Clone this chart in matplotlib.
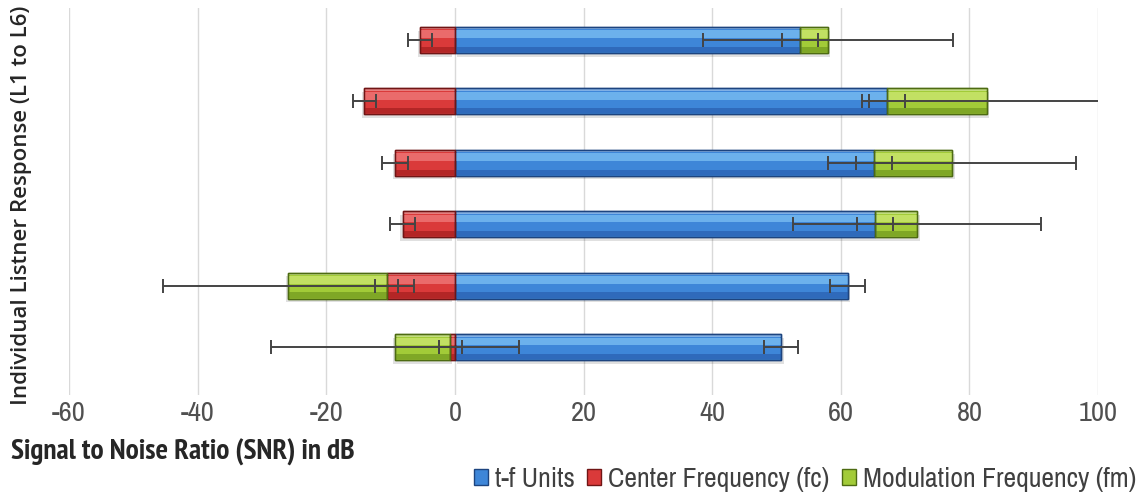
import numpy as np
import matplotlib.pyplot as plt
from matplotlib.patches import Patch
from matplotlib import font_manager as fm

# listeners L1 (bottom) to L6 (top)
listeners = ['L1', 'L2', 'L3', 'L4', 'L5', 'L6']
tf_units = [50.7, 61.1, 65.3, 65.2, 67.2, 53.6]
center_freq = [-0.7, -10.6, -8.1, -9.3, -14.1, -5.4]
mod_freq = [-8.6, -15.3, 6.6, 12.1, 15.5, 4.4]

tf_err = [2.7, 2.7, 2.8, 2.8, 2.8, 2.8]
cf_err = [1.8, 1.8, 1.95, 2.0, 1.8, 1.9]
mf_err = [19.3, 19.5, 19.3, 19.3, 19.4, 19.4]

# (light, mid, dark, edge) shades for the bevelled bars
shades = {
    't-f Units': ('#7cc0f4', '#3e86d8', '#2c63b4', '#1d447f'),
    'Center Frequency (fc)': ('#f07c7c', '#da3a3a', '#aa2222', '#701515'),
    'Modulation Frequency (fm)': ('#cde872', '#a2cb38', '#779f22', '#4d6b12'),
}


def narrow_font(bold=False):
    """Pick a condensed sans font file if one is installed."""
    want = 700 if bold else 400
    prefs = ['Liberation Sans Narrow', 'Noto Sans', 'Roboto', 'DejaVu Sans',
             'Open Sans', 'Lato', 'Inter']
    best = None
    for f in fm.fontManager.ttflist:
        cond = ('Narrow' in f.name or 'Condensed' in f.name
                or f.stretch in ('condensed', 'semi-condensed'))
        if not cond or 'Mono' in f.name or 'Serif' in f.name:
            continue
        if f.style != 'normal':
            continue
        base = f.name.replace(' Condensed', '').replace(' Narrow', '')
        rank = prefs.index(base) if base in prefs else len(prefs)
        if 'Narrow' in f.name:
            rank = -1
        w = f.weight if isinstance(f.weight, int) else (700 if 'bold' in str(f.weight) else 400)
        key = (rank, abs(w - want), f.stretch != 'condensed')
        if best is None or key < best[0]:
            best = (key, f.fname)
    if best is None:
        return fm.FontProperties(family='DejaVu Sans',
                                 weight='bold' if bold else 'normal')
    return fm.FontProperties(fname=best[1])


reg = narrow_font(False)
bold = narrow_font(True)
plt.rcParams['axes.unicode_minus'] = False

fig = plt.figure(figsize=(11.47, 4.99), dpi=100)
ax = fig.add_axes([0.0602, 0.2084, 0.8971, 0.7756])

h = 0.42
y = np.arange(len(listeners))


def bevel_bar(ax, ypos, left, width, name):
    light, mid, dark, edge = shades[name]
    # soft shadow
    ax.barh(ypos - 0.06, width, left=left + np.sign(width) * 0.4, height=h,
            color='#000000', alpha=0.12, linewidth=0, zorder=1)
    ax.barh(ypos, width, left=left, height=h, color=mid, edgecolor=edge,
            linewidth=1.0, zorder=2)
    # highlight band in the upper part, darker band at the bottom
    ax.barh(ypos + h * 0.22, width, left=left, height=h * 0.3, color=light,
            linewidth=0, alpha=0.75, zorder=3)
    ax.barh(ypos + h * 0.44, width, left=left, height=h * 0.06, color='#ffffff',
            linewidth=0, alpha=0.35, zorder=3)
    ax.barh(ypos - h * 0.36, width, left=left, height=h * 0.2, color=dark,
            linewidth=0, alpha=0.8, zorder=3)
    ax.barh(ypos, width, left=left, height=h, color='none', edgecolor=edge,
            linewidth=1.0, zorder=4)


tf_ends, cf_ends, mf_ends = [], [], []
for i in range(len(listeners)):
    pos, neg = 0.0, 0.0
    for name, vals, ends in [('t-f Units', tf_units, tf_ends),
                             ('Center Frequency (fc)', center_freq, cf_ends),
                             ('Modulation Frequency (fm)', mod_freq, mf_ends)]:
        v = vals[i]
        if v >= 0:
            left = pos
            pos += v
        else:
            left = neg
            neg += v
        bevel_bar(ax, y[i], left, v, name)
        ends.append(left + v)

for ends, errs in [(tf_ends, tf_err), (cf_ends, cf_err), (mf_ends, mf_err)]:
    ax.errorbar(ends, y, xerr=errs, fmt='none', ecolor='#444444',
                elinewidth=1.4, capsize=5, capthick=1.4, zorder=6)

ax.set_xlim(-60, 100)
ax.set_ylim(-0.78, 5.52)
ax.set_xticks(np.arange(-60, 101, 20))
ax.set_yticks([])
ax.grid(axis='x', color='#d9d9d9', linewidth=1.0, zorder=0)
ax.set_axisbelow(True)
for s in ax.spines.values():
    s.set_visible(False)
ax.tick_params(axis='x', length=0, pad=4, labelcolor='#505050')
for lbl in ax.get_xticklabels():
    lbl.set_fontproperties(reg)
    lbl.set_fontsize(20.5)

fig.text(0.010, 0.080, 'Signal to Noise Ratio (SNR) in dB',
         fontproperties=bold, fontsize=21.2, color='#262626')
fig.text(0.019, 0.588, 'Individual Listner Response (L1 to L6)', rotation=90,
         ha='center', va='center', fontsize=16, fontweight='semibold',
         color='#262626', family=['Open Sans', 'DejaVu Sans'])

handles = [Patch(facecolor=shades[n][1], edgecolor=shades[n][3], label=n)
           for n in shades]
leg_font = reg.copy()
leg_font.set_size(20)
fig.legend(handles=handles, loc='lower right', bbox_to_anchor=(1.012, -0.036),
           ncol=3, frameon=False, prop=leg_font, handlelength=0.5,
           handleheight=0.5, handletextpad=0.25, columnspacing=0.45,
           labelcolor='#404040')

fig.savefig('out.png', dpi=100)
